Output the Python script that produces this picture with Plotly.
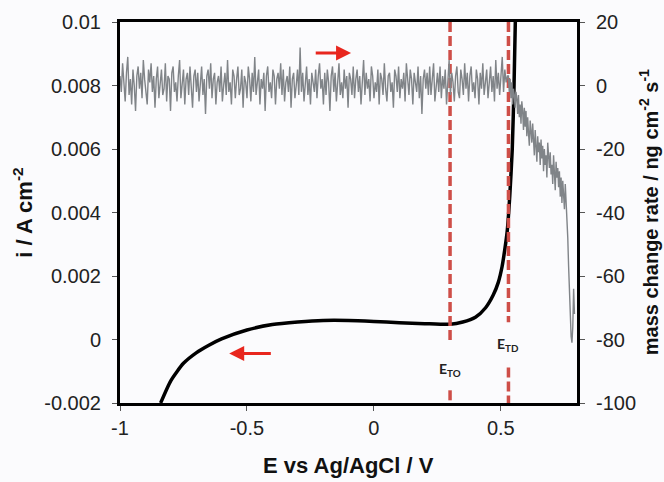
import numpy as np
import plotly.graph_objects as go

# Current density curve (left axis)
E_current = [-0.84, -0.80, -0.75, -0.70, -0.65, -0.60, -0.50, -0.40, -0.30, -0.20, -0.10, 0.0,
             0.10, 0.20, 0.30, 0.35, 0.40, 0.44, 0.47, 0.49, 0.505, 0.515, 0.525, 0.535,
             0.545, 0.552, 0.557]
i_current = [-0.002, -0.0013, -0.00075, -0.00042, -0.00018, 0.00002, 0.0003, 0.00047, 0.00055,
             0.0006, 0.0006, 0.00057, 0.00053, 0.0005, 0.00048, 0.00055, 0.0007, 0.001, 0.0014,
             0.0018, 0.0023, 0.0028, 0.0034, 0.0045, 0.006, 0.008, 0.01]

# Mass change rate (right axis): flat noisy part
E_mass_start, E_mass_end = -1.0, 0.526
mass_flat = [
    3, -2, 7, 1, -5, 4, 9, -3, 2, -6, 5, 0, -8, 3, 6, -1, 4, -4, 8, 2, -3, -6, 5, 1, 7, -2, 3, -7, 2, 6,
    -4, 1, 5, -3, -1, 7, -5, 3, 2, -8, 4, 6, -2, 1, -5, 3, 8, -4, 0, 5, -6, 2, 4, -3, 6, -1, -7, 3, 5, -2,
    4, -5, 1, 6, -3, 2, -9, 3, 5, -1, 7, -4, 2, 4, -6, 1, 3, -2, 6, -5, 0, 4, -3, 8, -2, 1, -6, 5, 3, -4,
    2, 6, -3, -1, 5, -7, 3, 1, -4, 6, 2, -5, 4, -2, 9, -3, 1, 5, -6, 2, -1, 4, -8, 3, 6, -2, 1, -4, 5, 3,
    -6, 2, 4, -1, 7, -3, 5, -5, 1, 3, -2, 6, -7, 2, 4, -4, 0, 5, -3, 12, -2, 4, -5, 1, 6, -3, 2, -6, 4, 1,
    -2, 5, -4, 3, 7, -1, 2, -6, 4, -3, 5, 1, -8, 3, 6, -2, 4, -5, 2, 7, -3, 1, -4, 5, -1, 3, -7, 4, 2, -3,
    6, -4, 2, 5, -2, 3, -6, 1, 8, -3, 4, -1, 2, -5, 6, 3, -4, 1, -2, 5, -6, 4, 2, -3, 7, -1, -5, 3, 4, -2,
    1, -7, 5, 3, -2, 6, -4, 2, -1, 4, -5, 7, 0, -3, 5, 2, -6, 4, 1, -2, 6, -4, 3, -9, 2, 5, -1, 4, -3, 6,
    -3, 2, 7, -5, 1, 4, -2, 6, -4, 3, -1, 5, -6, 2, 8, -3, 4, 1, -5, 3, 6, -2, -4, 5, 2, -3, 7, -1, 4, -5,
    3, 6, -2, 1, -4, 5, 2, -6, 4, -1, 7, -3, 2, 5, -4, 1, 6, -2, 3, -5, 8, -1, 4, -3, 2, 9, -2, 5, 1, 3,
]
# Mass change rate: declining tail
E_tail_start, E_tail_end = 0.53, 0.79
mass_tail = [
    3, -2, 2, -4, 1, -6, -1, -3, -7, -2,
    -4, -9, -3, -10, -6, -12, -5, -8, -14, -7,
    -13, -8, -16, -10, -15, -19, -11, -14, -18, -12,
    -17, -22, -14, -19, -24, -16, -21, -18, -25, -17,
    -23, -19, -27, -20, -25, -22, -29, -18, -24, -26,
    -21, -28, -25, -31, -22, -27, -33, -24, -29, -26,
    -32, -27, -35, -29, -37, -30, -34, -39, -31, -36,
    -40, -48, -57, -66, -74, -79, -81, -76, -64, -72,
]

# Threshold potentials
E_TO = 0.30
E_TD = 0.53

x_ticks = [-1, -0.5, 0, 0.5]
x_ticktext = ["-1", "-0.5", "0", "0.5"]
i_ticks = [-0.002, 0, 0.002, 0.004, 0.006, 0.008, 0.01]
i_ticktext = ["-0.002", "0", "0.002", "0.004", "0.006", "0.008", "0.01"]
m_ticks = [-100, -80, -60, -40, -20, 0, 20]
m_ticktext = ["-100", "-80", "-60", "-40", "-20", "0", "20"]

E_flat = np.linspace(E_mass_start, E_mass_end, len(mass_flat))
E_tail = np.linspace(E_tail_start, E_tail_end, len(mass_tail))

RED = "rgb(206,78,72)"
ARROW = "rgb(232,38,30)"
FONT = "Liberation Sans, Arial, sans-serif"
BG = "#fbfbfd"

fig = go.Figure()

fig.add_trace(go.Scatter(
    x=list(E_flat) + list(E_tail), y=mass_flat + mass_tail, yaxis="y2",
    mode="lines", line=dict(color="rgb(128,132,136)", width=1.4), showlegend=False))

fig.add_trace(go.Scatter(
    x=E_current, y=i_current, mode="lines",
    line=dict(color="black", width=3.5, shape="spline", smoothing=0.6), showlegend=False))

# dashed threshold lines (with gaps for labels)
fig.add_trace(go.Scatter(
    x=[E_TO, E_TO, None, E_TO, E_TO], y=[0.01, -0.00013, None, -0.0016, -0.002],
    mode="lines", line=dict(color=RED, width=3.5, dash="10px,4px"), showlegend=False))
fig.add_trace(go.Scatter(
    x=[E_TD, E_TD, None, E_TD, E_TD], y=[0.01, 0.00054, None, -0.00088, -0.002],
    mode="lines", line=dict(color=RED, width=3.5, dash="10px,4px"), showlegend=False))

axis_common = dict(showgrid=False, zeroline=False, showline=True, linecolor="black", linewidth=3,
                   ticks="outside", ticklen=5, tickwidth=1, tickcolor="#555",
                   tickfont=dict(family=FONT, size=20, color="#222"))

fig.update_layout(
    width=664, height=482,
    margin=dict(l=120, r=87, t=22, b=79),
    paper_bgcolor=BG, plot_bgcolor=BG,
    xaxis=dict(range=[-1, 0.8], tickvals=x_ticks, ticktext=x_ticktext, mirror=True, **axis_common),
    yaxis=dict(range=[-0.002, 0.01], tickvals=i_ticks, ticktext=i_ticktext, mirror=True,
               ticklabelstandoff=7, **axis_common),
    yaxis2=dict(range=[-100, 20], tickvals=m_ticks, ticktext=m_ticktext, overlaying="y", side="right",
                ticklabelstandoff=7, **axis_common),
    showlegend=False,
)

title_common = dict(xref="paper", yref="paper", showarrow=False, xanchor="center", yanchor="middle")
annots = [
    dict(text="<b>E vs Ag/AgCl / V</b>", x=0.499, y=-0.163,
         font=dict(family=FONT, size=22, color="#111"), **title_common),
    dict(text="<b>i / A cm<sup>-2</sup></b>", x=-0.214, y=0.5, textangle=-90,
         font=dict(family=FONT, size=22, color="#111"), **title_common),
    dict(text="<b>mass change rate / ng cm<sup>-2</sup> s<sup>-1</sup></b>", x=1.157, y=0.5,
         textangle=-90, font=dict(family=FONT, size=20, color="#111"), **title_common),
    dict(text="<b>E<sub>TO</sub></b>", x=E_TO, y=-0.00095, xref="x", yref="y", showarrow=False,
         font=dict(family="Lato, sans-serif", size=14, color="#222")),
    dict(text="<b>E<sub>TD</sub></b>", x=E_TD, y=-0.00017, xref="x", yref="y", showarrow=False,
         font=dict(family="Lato, sans-serif", size=14, color="#222")),
    dict(x=-0.09, y=0.00902, ax=-0.235, ay=0.00902, xref="x", yref="y", axref="x", ayref="y",
         showarrow=True, arrowhead=2, arrowsize=1, arrowwidth=3, arrowcolor=ARROW, text=""),
    dict(x=-0.57, y=-0.00044, ax=-0.40, ay=-0.00044, xref="x", yref="y", axref="x", ayref="y",
         showarrow=True, arrowhead=2, arrowsize=1, arrowwidth=3, arrowcolor=ARROW, text=""),
]
fig.update_layout(annotations=annots)

fig.write_html("out.html", config={"displayModeBar": False},
               post_script="document.body.style.margin='0';")
